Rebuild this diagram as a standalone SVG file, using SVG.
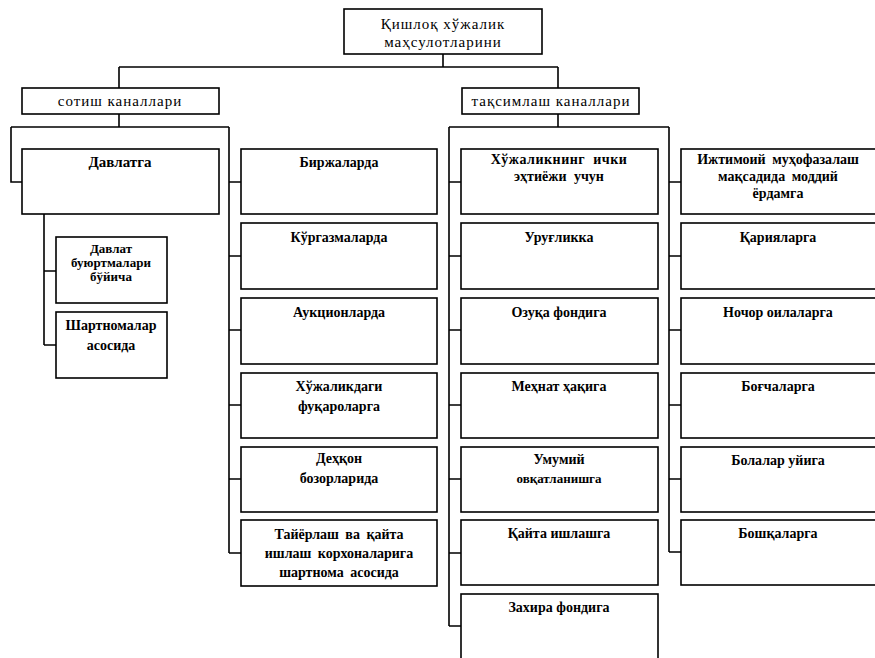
<svg xmlns="http://www.w3.org/2000/svg" width="875" height="658" viewBox="0 0 875 658">
<style>
.bx{fill:#fff;stroke:#000;stroke-width:1.6}
.ln{fill:none;stroke:#000;stroke-width:1.6}
text{font-family:"Liberation Serif","Times New Roman",serif;font-size:14px;fill:#000;text-anchor:middle}
.b{font-weight:bold}
.h{font-size:15px;letter-spacing:1px}
</style>
<rect width="875" height="658" fill="#fff"/>
<g id="connectors" class="ln">
<path d="M443 54V67M119 67H558M119 67V88M558 67V88"/>
<path d="M119 114V127M11 127H229M11 127V182H22M229 127V553"/>
<path d="M229 182H241M229 256H241M229 330H241M229 405H241M229 479H241M229 553H241"/>
<path d="M44 214V345M44 271H56M44 345H56"/>
<path d="M558 114V127M449 127H669M449 127V626M669 127V552"/>
<path d="M449 182H461M449 256H461M449 330H461M449 405H461M449 479H461M449 553H461M449 626H461"/>
<path d="M669 182H681M669 256H681M669 330H681M669 405H681M669 479H681M669 552H681"/>
</g>
<g id="root"><rect class="bx" x="344" y="9" width="198" height="45"/><text class="h" x="443" y="29">Қишлоқ хўжалик</text><text class="h" x="443" y="47">маҳсулотларини</text></g>
<g id="sotish"><rect class="bx" x="22" y="88" width="197" height="26"/><text class="h" x="120" y="106">сотиш каналлари</text></g>
<g id="taqsim"><rect class="bx" x="462" y="88" width="177" height="26"/><text class="h" x="551" y="106">тақсимлаш каналлари</text></g>
<g id="davlatga"><rect class="bx" x="22" y="149" width="197" height="65"/><text class="b" x="120" y="167" style="font-size:15px">Давлатга</text></g>
<g id="buyurtma"><rect class="bx" x="56" y="237" width="111" height="66"/><text class="b" x="111" y="253" style="font-size:13px">Давлат</text><text class="b" x="111" y="267" style="font-size:13px">буюртмалари</text><text class="b" x="111" y="281" style="font-size:13px">бўйича</text></g>
<g id="shartnoma"><rect class="bx" x="56" y="312" width="111" height="66"/><text class="b" x="111" y="330">Шартномалар</text><text class="b" x="111" y="350">асосида</text></g>
<g id="birja"><rect class="bx" x="241" y="149" width="196" height="65"/><text class="b" x="339" y="167">Биржаларда</text></g>
<g id="kurgazma"><rect class="bx" x="241" y="223" width="196" height="66"/><text class="b" x="339" y="242">Кўргазмаларда</text></g>
<g id="auksion"><rect class="bx" x="241" y="298" width="196" height="66"/><text class="b" x="339" y="317">Аукционларда</text></g>
<g id="fuqaro"><rect class="bx" x="241" y="373" width="196" height="65"/><text class="b" x="339" y="391">Хўжаликдаги</text><text class="b" x="339" y="411">фуқароларга</text></g>
<g id="dehqon"><rect class="bx" x="241" y="447" width="196" height="65"/><text class="b" x="339" y="463">Деҳқон</text><text class="b" x="339" y="483">бозорларида</text></g>
<g id="tayyorlash"><rect class="bx" x="241" y="520" width="196" height="66"/><text class="b" x="339" y="539" style="word-spacing:3px">Тайёрлаш ва қайта</text><text class="b" x="339" y="558" style="word-spacing:3px">ишлаш корхоналарига</text><text class="b" x="339" y="577" style="word-spacing:3px">шартнома асосида</text></g>
<g id="ichki"><rect class="bx" x="461" y="149" width="197" height="65"/><text class="b" x="559" y="164" style="word-spacing:4px;letter-spacing:0.5px">Хўжаликнинг ички</text><text class="b" x="559" y="181" style="word-spacing:4px">эҳтиёжи учун</text></g>
<g id="urug"><rect class="bx" x="461" y="223" width="197" height="66"/><text class="b" x="559" y="242">Уруғликка</text></g>
<g id="ozuqa"><rect class="bx" x="461" y="298" width="197" height="66"/><text class="b" x="559" y="317">Озуқа фондига</text></g>
<g id="mehnat"><rect class="bx" x="461" y="373" width="197" height="65"/><text class="b" x="559" y="391">Меҳнат ҳақига</text></g>
<g id="umumiy"><rect class="bx" x="461" y="447" width="197" height="65"/><text class="b" x="559" y="464">Умумий</text><text class="b" x="559" y="483" style="font-size:13px">овқатланишга</text></g>
<g id="qayta"><rect class="bx" x="461" y="520" width="197" height="65"/><text class="b" x="559" y="538">Қайта ишлашга</text></g>
<g id="zaxira"><rect class="bx" x="461" y="594" width="197" height="70"/><text class="b" x="559" y="612">Захира фондига</text></g>
<g id="ijtimoiy"><rect class="bx" x="681" y="149" width="198" height="65"/><text class="b" x="778" y="164" style="word-spacing:3px">Ижтимоий муҳофазалаш</text><text class="b" x="778" y="181" style="word-spacing:3px">мақсадида моддий</text><text class="b" x="778" y="198">ёрдамга</text></g>
<g id="qariya"><rect class="bx" x="681" y="223" width="198" height="66"/><text class="b" x="778" y="242">Қарияларга</text></g>
<g id="nochor"><rect class="bx" x="681" y="298" width="198" height="66"/><text class="b" x="778" y="317">Ночор оилаларга</text></g>
<g id="bogcha"><rect class="bx" x="681" y="373" width="198" height="65"/><text class="b" x="778" y="391">Боғчаларга</text></g>
<g id="bolalar"><rect class="bx" x="681" y="447" width="198" height="65"/><text class="b" x="778" y="465">Болалар уйига</text></g>
<g id="boshqa"><rect class="bx" x="681" y="520" width="198" height="65"/><text class="b" x="778" y="538">Бошқаларга</text></g>
</svg>
